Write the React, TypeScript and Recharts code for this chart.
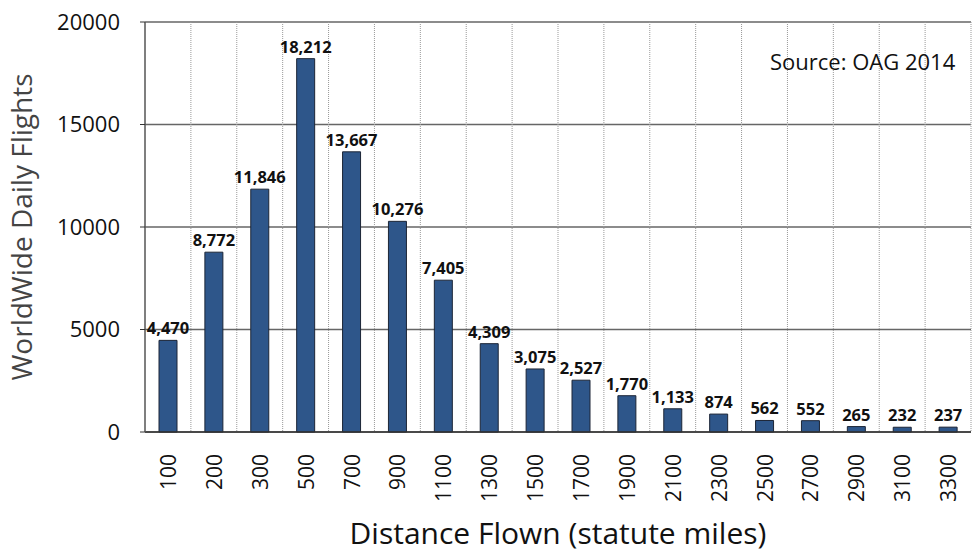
import React from "react";
import {
  BarChart,
  Bar,
  XAxis,
  YAxis,
  CartesianGrid,
  LabelList,
  Label,
} from "recharts";

const distances = [
  "100", "200", "300", "500", "700", "900", "1100", "1300", "1500",
  "1700", "1900", "2100", "2300", "2500", "2700", "2900", "3100", "3300",
];
const flights = [
  4470, 8772, 11846, 18212, 13667, 10276, 7405, 4309, 3075,
  2527, 1770, 1133, 874, 562, 552, 265, 232, 237,
];
const yTicks = [0, 5000, 10000, 15000, 20000];

const data = distances.map((d, i) => ({ distance: d, flights: flights[i] }));

const FONT = "'Open Sans', Lato, sans-serif";

function XTick(props: any) {
  const { x, y, payload } = props;
  return (
    <text
      transform={`translate(${x},${y + 14}) rotate(-90)`}
      textAnchor="end"
      dominantBaseline="central"
      fontSize={21}
      fontFamily={FONT}
      fill="#111"
    >
      {payload.value}
    </text>
  );
}

export default function App() {
  return (
    <div style={{ position: "fixed", left: 0, top: 0, width: 972, height: 554, background: "#fff" }}>
      <BarChart
        width={972}
        height={554}
        data={data}
        margin={{ top: 22, right: 1, left: 0, bottom: 0 }}
        barSize={18}
      >
        <CartesianGrid stroke="#666" strokeWidth={1.3} vertical={false} />
        <CartesianGrid
          horizontal={false}
          stroke="#999"
          strokeDasharray="1 1"
          verticalCoordinatesGenerator={({ offset }: any) =>
            distances.map((_, i) => offset.left + ((i + 1) * offset.width) / distances.length)
          }
        />
        <XAxis
          dataKey="distance"
          height={122}
          tick={<XTick />}
          tickLine={false}
          axisLine={{ stroke: "#333", strokeWidth: 1.5 }}
          interval={0}
        >
          <Label
            value="Distance Flown (statute miles)"
            position="insideBottom"
            offset={10}
            style={{ fontSize: 30, fontFamily: FONT, fill: "#111" }}
          />
        </XAxis>
        <YAxis
          width={145}
          domain={[0, 20000]}
          ticks={yTicks}
          tickSize={5}
          tickMargin={20}
          tick={{ fontSize: 22, fontFamily: FONT, fill: "#111" }}
          tickLine={{ stroke: "#333" }}
          axisLine={{ stroke: "#555", strokeWidth: 1.5 }}
        >
          <Label
            value="WorldWide Daily Flights"
            angle={-90}
            position="insideLeft"
            offset={22}
            style={{ fontSize: 28, fontFamily: FONT, fill: "#444", textAnchor: "middle" }}
          />
        </YAxis>
        <Bar
          dataKey="flights"
          fill="#2E568A"
          stroke="#1c2536"
          strokeWidth={1}
          isAnimationActive={false}
        >
          <LabelList
            dataKey="flights"
            position="top"
            offset={6}
            formatter={(v: any) => Number(v).toLocaleString("en-US")}
            style={{ fontSize: 16.5, fontWeight: 700, fontFamily: FONT, fill: "#111" }}
          />
        </Bar>
      </BarChart>
      <div
        style={{
          position: "absolute",
          left: 770,
          top: 46,
          fontSize: 22,
          fontFamily: FONT,
          color: "#111",
        }}
      >
        Source: OAG 2014
      </div>
    </div>
  );
}
